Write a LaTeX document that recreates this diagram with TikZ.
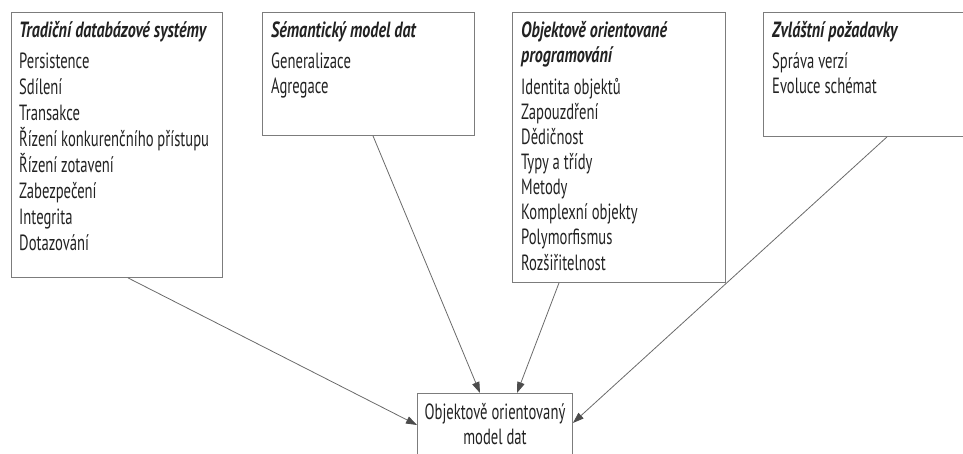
\documentclass[tikz,border=0pt]{standalone}
\usepackage{fontspec}
\setmainfont{PT Sans}[FakeStretch=0.665]
\newfontfamily\headfont{PT Sans}[FakeStretch=0.73]
\usetikzlibrary{arrows.meta,calc}

\definecolor{ink}{HTML}{222222}
\definecolor{frame}{HTML}{7C7C7C}
\definecolor{wire}{HTML}{6A6A6A}
\definecolor{tip}{HTML}{4C4C4C}

\tikzset{
  panel/.style={draw=frame, line width=0.9pt, anchor=north west, inner sep=0pt},
  item/.style={anchor=base west, inner sep=0pt, text=ink, font=\fontsize{22}{25}\selectfont},
  heading/.style={item, font=\fontsize{22}{25}\selectfont\headfont\itshape\bfseries},
  centred/.style={anchor=base, inner sep=0pt, text=ink, font=\fontsize{22}{25}\selectfont},
  link/.style={draw=wire, line width=0.8pt, -{Triangle[length=11pt,width=7.5pt,color=tip]}}
}

\begin{document}
\begin{tikzpicture}[x=1pt, y=-1pt]
  \useasboundingbox (0,0) rectangle (963,454);

  % the four source panels
  \node[panel, minimum width=211pt, minimum height=265pt] (trad) at (11,12) {};
  \node[panel, minimum width=212pt, minimum height=123pt] (sem)  at (262,12) {};
  \node[panel, minimum width=213pt, minimum height=270pt] (oop)  at (512,12) {};
  \node[panel, minimum width=215pt, minimum height=124pt] (spec) at (763,12) {};

  % the target model
  \node[panel, minimum width=155pt, minimum height=80pt] (obj) at (417,393) {};

  % panel contents
  \node[heading] (trad-h) at ($(trad.north west)+(8,26)$) {Tradiční databázové systémy};
  \foreach \t [count=\i] in {Persistence, Sdílení, Transakce, Řízení konkurenčního přístupu,
      Řízení zotavení, Zabezpečení, Integrita, Dotazování}
    \node[item] (trad-\i) at ($(trad.north west)+(8,{57+26*(\i-1)})$) {\t};

  \node[heading] (sem-h) at ($(sem.north west)+(9,26)$) {Sémantický model dat};
  \foreach \t [count=\i] in {Generalizace, Agregace}
    \node[item] (sem-\i) at ($(sem.north west)+(9,{57+25*(\i-1)})$) {\t};

  \node[heading] (oop-h1) at ($(oop.north west)+(9,26)$) {Objektově orientované};
  \node[heading] (oop-h2) at ($(oop.north west)+(9,51)$) {programování};
  \foreach \t [count=\i] in {Identita objektů, Zapouzdření, Dědičnost, Typy a třídy,
      Metody, Komplexní objekty, Polymorfismus, Rozšiřitelnost}
    \node[item] (oop-\i) at ($(oop.north west)+(9,{83+25*(\i-1)})$) {\t};

  \node[heading] (spec-h) at ($(spec.north west)+(9,26)$) {Zvláštní požadavky};
  \foreach \t [count=\i] in {Správa verzí, Evoluce schémat}
    \node[item] (spec-\i) at ($(spec.north west)+(9,{57+25*(\i-1)})$) {\t};

  \node[centred] (obj-1) at ($(obj.north)+(0,26)$) {Objektově orientovaný};
  \node[centred] (obj-2) at ($(obj.north)+(0,51)$) {model dat};

  % connectors into the target model
  \draw[link] ([xshift=117pt]trad.south west) -- ([yshift=-32pt]obj.north west);
  \draw[link] ([xshift=111pt]sem.south west)  -- ([xshift=63pt]obj.north west);
  \draw[link] ([xshift=47pt]oop.south west)   -- ([xshift=100pt]obj.north west);
  \draw[link] ([xshift=124pt]spec.south west) -- ([yshift=-30pt]obj.north east);
\end{tikzpicture}
\end{document}
